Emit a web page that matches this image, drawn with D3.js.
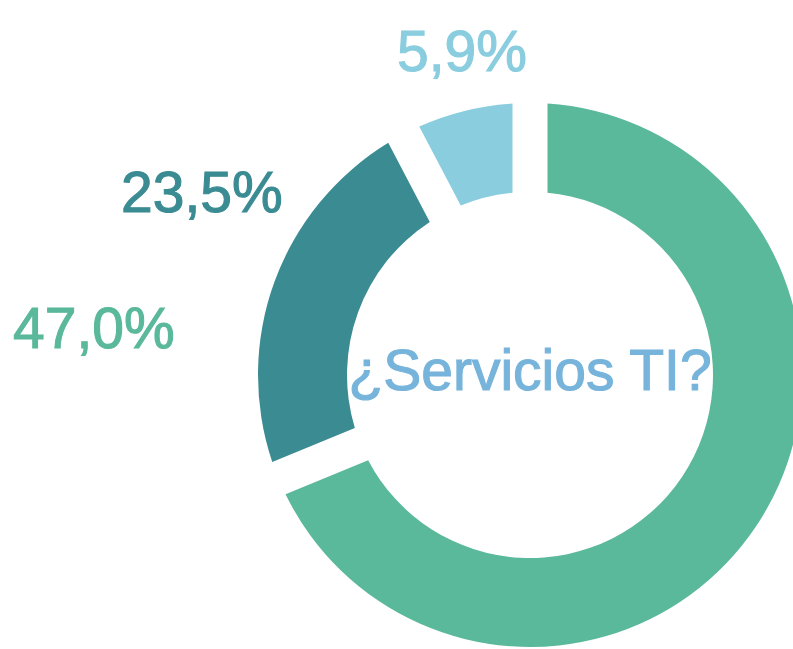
<!DOCTYPE html>
<html>
<head>
<meta charset="utf-8">
<script src="https://cdn.jsdelivr.net/npm/d3@7"></script>
<style>
  html, body { margin: 0; padding: 0; background: #ffffff; }
  svg { display: block; }
</style>
</head>
<body>
<script>
// ---- data ----
const categories = ["Sí", "En parte", "No"];
const sliceShares = [68.8, 23.5, 7.7];          // angular share of each ring segment, as drawn
const labelTexts = ["47,0%", "23,5%", "5,9%"];   // printed labels
const sliceColors = ["#5AB89B", "#3B8B93", "#89CDDF"];
const centerTitle = "¿Servicios TI?";

// ---- layout ----
const W = 793, H = 649;
const cx = 530, cy = 375;
const outerR = 272, innerR = 183;
const halfGap = 17.5;
const labelPos = [
  { x: 13, y: 348 },
  { x: 121, y: 212 },
  { x: 397, y: 71 }
];

const svg = d3.select("body").append("svg")
  .attr("width", W).attr("height", H);

const g = svg.append("g").attr("transform", `translate(${cx},${cy})`);

const pie = d3.pie().sort(null).value(d => d.value);
const arcs = pie(categories.map((c, i) => ({ cat: c, value: sliceShares[i], i })));

const arc = d3.arc()
  .innerRadius(innerR)
  .outerRadius(outerR)
  .padRadius(outerR)
  .padAngle(2 * Math.asin(halfGap / outerR));

g.selectAll("path.slice")
  .data(arcs)
  .join("path")
  .attr("class", "slice")
  .attr("d", arc)
  .attr("fill", d => sliceColors[d.data.i]);

g.append("text")
  .attr("x", 0).attr("y", 15)
  .attr("text-anchor", "middle")
  .attr("font-family", "'Liberation Sans', Arial, sans-serif")
  .attr("font-size", 57)
  .attr("fill", "#77B4DB")
  .attr("stroke", "#77B4DB")
  .attr("stroke-width", 1.1)
  .text(centerTitle);

svg.selectAll("text.lbl")
  .data(labelTexts)
  .join("text")
  .attr("class", "lbl")
  .attr("x", (d, i) => labelPos[i].x)
  .attr("y", (d, i) => labelPos[i].y)
  .attr("font-family", "'Liberation Sans', Arial, sans-serif")
  .attr("font-size", 57)
  .attr("fill", (d, i) => sliceColors[i])
  .attr("stroke", (d, i) => sliceColors[i])
  .attr("stroke-width", 1.1)
  .text(d => d);
</script>
</body>
</html>
